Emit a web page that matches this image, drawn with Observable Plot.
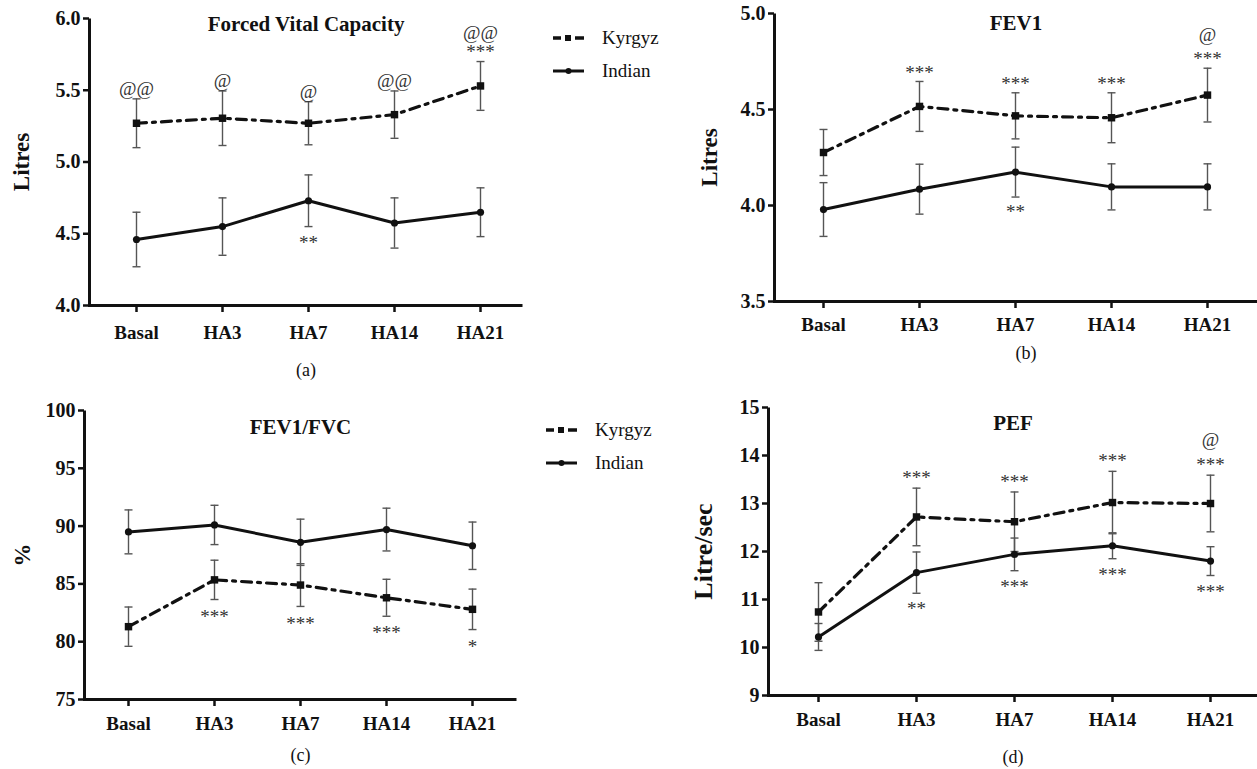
<!DOCTYPE html>
<html>
<head>
<meta charset="utf-8">
<script src="https://cdn.jsdelivr.net/npm/d3@7"></script>
<script src="https://cdn.jsdelivr.net/npm/@observablehq/plot@0.6"></script>
<style>
  html, body { margin: 0; padding: 0; background: #fff; }
  #root { position: relative; width: 1257px; height: 769px; overflow: hidden; background: #fff;
          font-family: "Liberation Serif", "Times New Roman", serif; }
  .panel { position: absolute; }
  .panel g[aria-label="y-axis tick label"] { font-variant: normal; }
  .legend { position: absolute; font-size: 19px; color: #111;
            font-family: "Liberation Serif", "Times New Roman", serif; }
  .legend .item { position: absolute; white-space: nowrap; display: flex; align-items: center; height: 24px; }
  .legend svg { display: block; margin-right: 18px; }
</style>
</head>
<body>
<div id="root"></div>
<script>
// ---------- data ----------
const categories = ["Basal", "HA3", "HA7", "HA14", "HA21"];
const seriesNames = ["Kyrgyz", "Indian"];

// (a) Forced Vital Capacity (Litres)
const fvcKyrgyzMean = [5.27, 5.305, 5.27, 5.33, 5.53];
const fvcKyrgyzSD   = [0.17, 0.19, 0.15, 0.165, 0.17];
const fvcIndianMean = [4.46, 4.55, 4.73, 4.575, 4.65];
const fvcIndianSD   = [0.19, 0.20, 0.18, 0.175, 0.17];
const fvcTicks = [4.0, 4.5, 5.0, 5.5, 6.0];
const fvcNotes = [
  {cat: "Basal", series: "Kyrgyz", side: "above", level: 0, text: "@@"},
  {cat: "HA3",   series: "Kyrgyz", side: "above", level: 0, text: "@"},
  {cat: "HA7",   series: "Kyrgyz", side: "above", level: 0, text: "@"},
  {cat: "HA14",  series: "Kyrgyz", side: "above", level: 0, text: "@@"},
  {cat: "HA21",  series: "Kyrgyz", side: "above", level: 0, text: "***"},
  {cat: "HA21",  series: "Kyrgyz", side: "above", level: 1, text: "@@"},
  {cat: "HA7",   series: "Indian", side: "below", level: 0, text: "**"}
];

// (b) FEV1 (Litres)
const fev1KyrgyzMean = [4.276, 4.516, 4.467, 4.457, 4.575];
const fev1KyrgyzSD   = [0.12, 0.13, 0.12, 0.13, 0.14];
const fev1IndianMean = [3.979, 4.085, 4.174, 4.097, 4.097];
const fev1IndianSD   = [0.14, 0.13, 0.13, 0.12, 0.12];
const fev1Ticks = [3.5, 4.0, 4.5, 5.0];
const fev1Notes = [
  {cat: "HA3",  series: "Kyrgyz", side: "above", level: 0, text: "***"},
  {cat: "HA7",  series: "Kyrgyz", side: "above", level: 0, text: "***"},
  {cat: "HA14", series: "Kyrgyz", side: "above", level: 0, text: "***"},
  {cat: "HA21", series: "Kyrgyz", side: "above", level: 0, text: "***"},
  {cat: "HA21", series: "Kyrgyz", side: "above", level: 1, text: "@"},
  {cat: "HA7",  series: "Indian", side: "below", level: 0, text: "**"}
];

// (c) FEV1/FVC (%)
const ratioKyrgyzMean = [81.3, 85.35, 84.9, 83.8, 82.8];
const ratioKyrgyzSD   = [1.7, 1.7, 1.85, 1.6, 1.75];
const ratioIndianMean = [89.5, 90.1, 88.6, 89.7, 88.3];
const ratioIndianSD   = [1.9, 1.7, 2.0, 1.85, 2.05];
const ratioTicks = [75, 80, 85, 90, 95, 100];
const ratioNotes = [
  {cat: "HA3",  series: "Kyrgyz", side: "below", level: 0, text: "***"},
  {cat: "HA7",  series: "Kyrgyz", side: "below", level: 0, text: "***"},
  {cat: "HA14", series: "Kyrgyz", side: "below", level: 0, text: "***"},
  {cat: "HA21", series: "Kyrgyz", side: "below", level: 0, text: "*"}
];

// (d) PEF (Litre/sec)
const pefKyrgyzMean = [10.74, 12.72, 12.62, 13.02, 13.0];
const pefKyrgyzSD   = [0.61, 0.60, 0.62, 0.65, 0.59];
const pefIndianMean = [10.22, 11.56, 11.94, 12.12, 11.80];
const pefIndianSD   = [0.28, 0.43, 0.34, 0.27, 0.30];
const pefTicks = [9, 10, 11, 12, 13, 14, 15];
const pefNotes = [
  {cat: "HA3",  series: "Kyrgyz", side: "above", level: 0, text: "***"},
  {cat: "HA7",  series: "Kyrgyz", side: "above", level: 0, text: "***"},
  {cat: "HA14", series: "Kyrgyz", side: "above", level: 0, text: "***"},
  {cat: "HA21", series: "Kyrgyz", side: "above", level: 0, text: "***"},
  {cat: "HA21", series: "Kyrgyz", side: "above", level: 1, text: "@"},
  {cat: "HA3",  series: "Indian", side: "below", level: 0, text: "**"},
  {cat: "HA7",  series: "Indian", side: "below", level: 0, text: "***"},
  {cat: "HA14", series: "Indian", side: "below", level: 0, text: "***"},
  {cat: "HA21", series: "Indian", side: "below", level: 0, text: "***"}
];

// ---------- drawing ----------
const FONT = "'Liberation Serif', 'Times New Roman', serif";
const root = document.getElementById("root");

// horizontal cap symbol for error bars
const capSymbol = {
  draw(context, size) {
    const r = Math.sqrt(size / Math.PI);
    context.moveTo(-r, 0);
    context.lineTo(r, 0);
  }
};

function panel(cfg) {
  const {box, title, ylabel, caption, yDomain, ticks, tickFormat,
         kMean, kSD, iMean, iSD, notes} = cfg;
  const W = box.width - box.marginLeft - box.marginRight;
  const H = box.height - box.marginTop - box.marginBottom;
  const perPx = (yDomain[1] - yDomain[0]) / H;

  const rows = categories.flatMap((c, i) => [
    {cat: c, series: seriesNames[0], mean: kMean[i], sd: kSD[i]},
    {cat: c, series: seriesNames[1], mean: iMean[i], sd: iSD[i]}
  ]);
  const kRows = rows.filter(d => d.series === "Kyrgyz");
  const iRows = rows.filter(d => d.series === "Indian");
  const noteRows = notes.map(n => {
    const r = rows.find(d => d.cat === n.cat && d.series === n.series);
    const off = (n.side === "above" ? 1 : -1) * (cfg.noteGap + n.level * cfg.levelGap) * perPx;
    const base = n.side === "above" ? r.mean + r.sd : r.mean - r.sd;
    return {...n, y: base + off};
  });

  const chart = Plot.plot({
    width: box.width,
    height: box.height,
    marginLeft: box.marginLeft,
    marginRight: box.marginRight,
    marginTop: box.marginTop,
    marginBottom: box.marginBottom,
    style: {fontFamily: FONT, background: "transparent", overflow: "visible", color: "#111"},
    x: {type: "point", domain: categories, padding: 0, insetLeft: box.insetLeft, insetRight: box.insetRight},
    y: {domain: yDomain},
    marks: [
      Plot.frame({stroke: "#111", strokeWidth: 3, strokeDasharray: `0 ${W + H} ${W + H + 4}`}),
      Plot.axisY(ticks, {tickFormat, tickSize: 6, tickPadding: 3, strokeWidth: 2.5,
                         fontSize: 20, fontWeight: "bold", fontVariant: "normal", label: null}),
      Plot.axisX({tickSize: 7, tickPadding: cfg.xPad, strokeWidth: 2.5,
                  fontSize: 19, fontWeight: "bold", label: null}),
      Plot.ruleX(rows, {x: "cat", y1: d => d.mean - d.sd, y2: d => d.mean + d.sd,
                        stroke: "#555", strokeWidth: 1.4}),
      Plot.dot(rows, {x: "cat", y: d => d.mean + d.sd, symbol: capSymbol, r: 4,
                      stroke: "#555", strokeWidth: 1.4, fill: "none"}),
      Plot.dot(rows, {x: "cat", y: d => d.mean - d.sd, symbol: capSymbol, r: 4,
                      stroke: "#555", strokeWidth: 1.4, fill: "none"}),
      Plot.line(iRows, {x: "cat", y: "mean", stroke: "#111", strokeWidth: 3}),
      Plot.line(kRows, {x: "cat", y: "mean", stroke: "#111", strokeWidth: 3.2,
                        strokeDasharray: "10,6,3,6"}),
      Plot.dot(iRows, {x: "cat", y: "mean", symbol: "circle", r: 3.6, fill: "#111"}),
      Plot.dot(kRows, {x: "cat", y: "mean", symbol: "square", r: 4.2, fill: "#111"}),
      Plot.text(noteRows, {x: "cat", y: "y", text: "text", fontSize: 19, fill: "#333",
                           lineAnchor: "middle", dy: 3}),
      Plot.text([title], {frameAnchor: "top", dy: cfg.titleDy, lineAnchor: "middle",
                          fontSize: 21, fontWeight: "bold"}),
      Plot.text([ylabel], {frameAnchor: "left", dx: -cfg.ylabelDx, rotate: -90,
                           textAnchor: "middle", lineAnchor: "middle",
                           fontSize: cfg.ylabelSize, fontWeight: "bold"}),
      Plot.text([caption], {frameAnchor: "bottom", dy: cfg.captionDy, lineAnchor: "middle",
                            dx: cfg.captionDx || 0, fontSize: 18, fontWeight: "normal"})
    ]
  });
  chart.classList.add("panel");
  chart.style.left = box.left + "px";
  chart.style.top = box.top + "px";
  root.appendChild(chart);
}

panel({
  box: {left: 0, top: 0, width: 560, height: 385, marginLeft: 89, marginTop: 18, marginRight: 38,
        marginBottom: 80, insetLeft: 46, insetRight: 42},
  title: "Forced Vital Capacity", ylabel: "Litres", caption: "(a)",
  yDomain: [4, 6], ticks: fvcTicks, tickFormat: d3.format(".1f"),
  kMean: fvcKyrgyzMean, kSD: fvcKyrgyzSD, iMean: fvcIndianMean, iSD: fvcIndianSD, notes: fvcNotes,
  titleDy: 6, ylabelDx: 68, ylabelSize: 23, captionDy: 65, noteGap: 13, levelGap: 19, xPad: 13
});

panel({
  box: {left: 660, top: 0, width: 597, height: 385, marginLeft: 114, marginTop: 13, marginRight: 0,
        marginBottom: 84, insetLeft: 49, insetRight: 50},
  title: "FEV1", ylabel: "Litres", caption: "(b)",
  yDomain: [3.5, 5], ticks: fev1Ticks, tickFormat: d3.format(".1f"),
  kMean: fev1KyrgyzMean, kSD: fev1KyrgyzSD, iMean: fev1IndianMean, iSD: fev1IndianSD, notes: fev1Notes,
  titleDy: 10, ylabelDx: 65, ylabelSize: 23, captionDy: 52, captionDx: 10, noteGap: 12, levelGap: 24, xPad: 9
});

panel({
  box: {left: 0, top: 385, width: 560, height: 384, marginLeft: 84, marginTop: 25, marginRight: 44,
        marginBottom: 70, insetLeft: 43, insetRight: 44},
  title: "FEV1/FVC", ylabel: "%", caption: "(c)",
  yDomain: [75, 100], ticks: ratioTicks, tickFormat: d3.format("d"),
  kMean: ratioKyrgyzMean, kSD: ratioKyrgyzSD, iMean: ratioIndianMean, iSD: ratioIndianSD, notes: ratioNotes,
  titleDy: 17, ylabelDx: 62, ylabelSize: 23, captionDy: 56, noteGap: 14, levelGap: 19, xPad: 10
});

panel({
  box: {left: 660, top: 385, width: 597, height: 384, marginLeft: 108, marginTop: 22, marginRight: 0,
        marginBottom: 74, insetLeft: 49, insetRight: 47},
  title: "PEF", ylabel: "Litre/sec", caption: "(d)",
  yDomain: [9, 15], ticks: pefTicks, tickFormat: d3.format("d"),
  kMean: pefKyrgyzMean, kSD: pefKyrgyzSD, iMean: pefIndianMean, iSD: pefIndianSD, notes: pefNotes,
  titleDy: 16, ylabelDx: 65, ylabelSize: 26, captionDy: 62, noteGap: 13, levelGap: 25, xPad: 10
});

// ---------- legends ----------
function legend(left, top) {
  const div = document.createElement("div");
  div.className = "legend";
  div.style.left = left + "px";
  div.style.top = top + "px";
  const swK = `<svg width="31" height="10"><line x1="0" y1="5" x2="31" y2="5" stroke="#111" stroke-width="3.5" stroke-dasharray="8,4,6,4,9"/><rect x="12" y="2" width="6" height="6" fill="#111"/></svg>`;
  const swI = `<svg width="31" height="10"><line x1="0" y1="5" x2="31" y2="5" stroke="#111" stroke-width="3"/><circle cx="15.5" cy="5" r="3" fill="#111"/></svg>`;
  div.innerHTML =
    `<div class="item" style="top:0px">${swK}<span>${seriesNames[0]}</span></div>` +
    `<div class="item" style="top:33px">${swI}<span>${seriesNames[1]}</span></div>`;
  root.appendChild(div);
}
legend(553, 26);
legend(546, 418);
</script>
</body>
</html>
